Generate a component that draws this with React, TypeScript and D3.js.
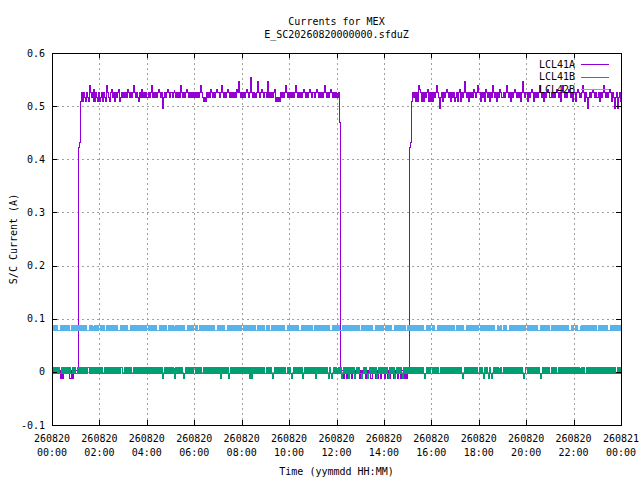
import React from 'react';
import * as d3 from 'd3';

const titleLines = ['Currents for MEX', 'E_SC20260820000000.sfduZ'];
const xLabel = 'Time (yymmdd HH:MM)';
const yLabel = 'S/C Current (A)';

const yTicks = [-0.1, 0, 0.1, 0.2, 0.3, 0.4, 0.5, 0.6];
const yTickLabels = ['-0.1', '0', '0.1', '0.2', '0.3', '0.4', '0.5', '0.6'];
const xTickHours = [0, 2, 4, 6, 8, 10, 12, 14, 16, 18, 20, 22, 24];
const xTickDates = ['260820', '260820', '260820', '260820', '260820', '260820', '260820', '260820', '260820', '260820', '260820', '260820', '260821'];
const xTickTimes = ['00:00', '02:00', '04:00', '06:00', '08:00', '10:00', '12:00', '14:00', '16:00', '18:00', '20:00', '22:00', '00:00'];

const seriesNames = ['LCL41A', 'LCL41B', 'LCL42B'];
const seriesColors = ['#9400d3', '#009e73', '#56b4e9'];

// quantised current levels (A)
const levels41A: Record<string, number> = {
  '0': 0.004, '-': -0.011, x: 0.424, w: 0.433, y: 0.47,
  z: 0.497, a: 0.510, b: 0.518, c: 0.526, d: 0.533, e: 0.540, f: 0.547, g: 0.555,
};
const levels41B: Record<string, number> = { '1': 0.0085, '0': -0.0015, '-': -0.011 };
const levels42B: Record<string, number> = { '1': 0.0875, '0': 0.0785 };

// one string per hour of the day; each character is one sample
const hourly41A = [
  '00000000-0-000000--0-000',
  '00xwacacbacbaecbcadacbac',
  'abcacbaecbacdbcacbcdabcb',
  'cbcbdcbcbcecbcbacbdbcbcb',
  'bcbcebcbcbcdcbczbcbcdcbc',
  'cbcdcbcbcbecbcbcdcbcbcbc',
  'bcbcbcecbabacbcbdcbcbcdc',
  'cbcecbcbcdcbcbcbcbdcfcbc',
  'bcbcdcbcgcbcbcbcfcbcdcbc',
  'cbfbcbcbcdababacbcbcecbc',
  'bcbcbcecbcbcbcdcbcbcdcbc',
  'cbcdcbcbcbcecbcbcdcbcbcb',
  'cbcy000-00-0000-00-0000-',
  '0-000-0-00--000-0-00-000',
  '-00-0-000--00-00-000-0-0',
  '0xwacbcacacedcacacbcdaca',
  'cacbcecbzbcacbcdcbcacbca',
  'bcacdacbcfcbcacbcbdcbcec',
  'cacbcadcbcacbecbcacbcdcb',
  'bcbcecbcacbcdcbcbcacfcbc',
  'cacbcdcacbcbcecbcacbcdcb',
  'bcbcbcdcbcacecbcbcdcbcac',
  'cacdcbcbcecacbzbcbcdcbcb',
  'bcacbcecbcbcdcacbzbczbca',
];
const end41A = 'c';

const hourly41B = [
  '101010100101010101001010',
  '010101010101101010101010',
  '101001010101010101010110',
  '010101010010101010101010',
  '101010101010101-01010101',
  '0101-10101010-0101010101',
  '101010100101010101010101',
  '01-1010101-0101010101010',
  '1010101-1-10101010101010',
  '0101010-0101010101010010',
  '10-0101010101-0101010101',
  '01-101010101010-10-01010',
  '10101-010101-10101-01010',
  '0-01010-01010101-0101010',
  '1010-10101-0101010-10101',
  '01010101010101010-010101',
  '101010100101010101010101',
  '0101010-0101010101010100',
  '1010-1010-10-01010101010',
  '010101010101010101010-01',
  '10101010101010-010101010',
  '010101001010101010101010',
  '101010101010010101010101',
  '010101010101010101001010',
];
const end41B = '1';

const hourly42B = [
  '101010001010101010010101',
  '010101010100010101010101',
  '101010010101010101000101',
  '010100010101010101010101',
  '101010101000101010100101',
  '010101010101010001010101',
  '101001010101010101010001',
  '010101000101010101010101',
  '101010101010100010101010',
  '010100101010101010100010',
  '101010101000101010101010',
  '010101010101010100010101',
  '101000101010101010101010',
  '010101010101000101010101',
  '101010100010101010101001',
  '010101010101010100010101',
  '101000101010101010101010',
  '010101010001010101010101',
  '101010101010101000101010',
  '010100010101010101010101',
  '101010101010001010101010',
  '010101010101010101000101',
  '101000101010101010101010',
  '010101010100010101010101',
];
const end42B = '1';

type Pt = [Date, number];
const day0 = Date.UTC(2026, 7, 20, 0, 0, 0);
const hourMs = 3600 * 1000;

function buildSeries(chunks: string[], levels: Record<string, number>, endCode: string): Pt[] {
  const pts: Pt[] = [];
  chunks.forEach((chunk, h) => {
    const n = chunk.length;
    for (let k = 0; k < n; k++) {
      pts.push([new Date(day0 + (h + k / n) * hourMs), levels[chunk[k]]]);
    }
  });
  pts.push([new Date(day0 + 24 * hourMs), levels[endCode]]);
  return pts;
}

const W = 640;
const H = 480;
const plot = { left: 52, right: 621, top: 53, bottom: 425 };
const FONT = '"DejaVu Sans Mono", "Liberation Mono", monospace';

export default function App() {
  const x = d3.scaleUtc().domain([new Date(day0), new Date(day0 + 24 * hourMs)]).range([plot.left, plot.right]);
  const y = d3.scaleLinear().domain([-0.1, 0.6]).range([plot.bottom, plot.top]);

  const data = [
    buildSeries(hourly41A, levels41A, end41A),
    buildSeries(hourly41B, levels41B, end41B),
    buildSeries(hourly42B, levels42B, end42B),
  ];
  const line = d3
    .line<Pt>()
    .x((d) => Math.round(x(d[0])) + 0.5)
    .y((d) => Math.round(y(d[1])) + 0.5)
    .curve(d3.curveStepAfter);
  const tickLen = 5;
  const cx = (plot.left + plot.right) / 2;

  return (
    <svg width={W} height={H} style={{ position: 'absolute', left: 0, top: 0, background: '#fff' }} fontFamily={FONT} fontSize={10}>
      <rect x={0} y={0} width={W} height={H} fill="#fff" />
      {/* grid */}
      <g stroke="#a0a0a0" strokeWidth={1} strokeDasharray="2,3" shapeRendering="crispEdges">
        {yTicks.slice(1, -1).map((t) => (
          <line key={'gy' + t} x1={plot.left} x2={plot.right} y1={Math.round(y(t)) + 0.5} y2={Math.round(y(t)) + 0.5} />
        ))}
        {xTickHours.slice(1, -1).map((h) => {
          const xx = Math.round(x(new Date(day0 + h * hourMs))) + 0.5;
          return <line key={'gx' + h} x1={xx} x2={xx} y1={plot.top} y2={plot.bottom} />;
        })}
      </g>
      {/* series */}
      {data.map((d, i) => (
        <path key={seriesNames[i]} d={line(d) || ''} fill="none" stroke={seriesColors[i]} strokeWidth={1} shapeRendering="crispEdges" />
      ))}
      {/* border and ticks */}
      <g shapeRendering="crispEdges">
        <rect x={plot.left + 0.5} y={plot.top + 0.5} width={plot.right - plot.left} height={plot.bottom - plot.top} fill="none" stroke="#000" strokeWidth={1} />
        <g stroke="#000" strokeWidth={1}>
          {yTicks.map((t) => {
            const yy = Math.round(y(t)) + 0.5;
            return (
              <g key={'ty' + t}>
                <line x1={plot.left} x2={plot.left + tickLen} y1={yy} y2={yy} />
                <line x1={plot.right - tickLen} x2={plot.right} y1={yy} y2={yy} />
              </g>
            );
          })}
          {xTickHours.map((h) => {
            const xx = Math.round(x(new Date(day0 + h * hourMs))) + 0.5;
            return (
              <g key={'tx' + h}>
                <line x1={xx} x2={xx} y1={plot.bottom} y2={plot.bottom - tickLen} />
                <line x1={xx} x2={xx} y1={plot.top} y2={plot.top + tickLen} />
              </g>
            );
          })}
        </g>
      </g>
      {/* tick labels */}
      <g fill="#000">
        {yTicks.map((t, i) => (
          <text key={'ly' + t} x={45} y={y(t)} dy="0.35em" textAnchor="end">{yTickLabels[i]}</text>
        ))}
        {xTickHours.map((h, i) => {
          const xx = x(new Date(day0 + h * hourMs));
          return (
            <g key={'lx' + h}>
              <text x={xx} y={438} dy="0.35em" textAnchor="middle">{xTickDates[i]}</text>
              <text x={xx} y={452} dy="0.35em" textAnchor="middle">{xTickTimes[i]}</text>
            </g>
          );
        })}
      </g>
      {/* titles */}
      <text x={cx} y={21} dy="0.35em" textAnchor="middle">{titleLines[0]}</text>
      <text x={cx} y={34} dy="0.35em" textAnchor="middle">{titleLines[1]}</text>
      <text x={cx} y={471} dy="0.35em" textAnchor="middle">{xLabel}</text>
      <text transform={`translate(13,239) rotate(-90)`} dy="0.35em" textAnchor="middle">{yLabel}</text>
      {/* legend */}
      {seriesNames.map((n, i) => {
        const ly = 64 + i * 12.7;
        return (
          <g key={'leg' + n}>
            <text x={575} y={ly} dy="0.35em" textAnchor="end">{n}</text>
            <line x1={581} x2={609} y1={Math.round(ly) + 0.5} y2={Math.round(ly) + 0.5} stroke={seriesColors[i]} strokeWidth={1} shapeRendering="crispEdges" />
          </g>
        );
      })}
    </svg>
  );
}
